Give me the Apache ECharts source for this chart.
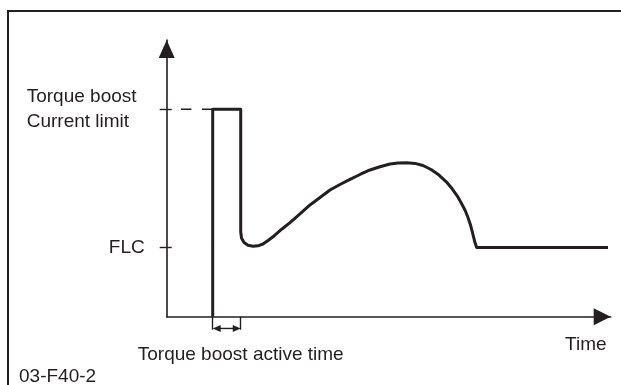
<!DOCTYPE html>
<html>
<head>
<meta charset="utf-8">
<script src="https://cdn.jsdelivr.net/npm/echarts@6/dist/echarts.min.js"></script>
<style>
html,body{margin:0;padding:0;background:#fff;}
#chart{width:621px;height:385px;}
</style>
</head>
<body>
<div id="chart"></div>
<script>
// ---- data (x: time units 0..100, y: current, FLC = 1) ----
const timeValues = [10.36, 10.36, 16.67, 16.67, 16.85, 17.41, 18.31, 19.44, 20.56, 21.69, 22.82, 24.17,
  25.97, 27.77, 30.02, 32.27, 34.53, 36.78, 39.03, 41.28, 43.54, 45.79, 48.04, 50.29, 52.09, 54.05,
  55.93, 57.73, 59.53, 61.33, 62.91, 64.26, 65.38, 66.28, 67.18, 67.86, 68.42, 68.87, 69.21, 69.50, 69.82, 99.39];
const currentValues = [0, 3, 3, 1.224, 1.138, 1.073, 1.032, 1.019, 1.025, 1.051, 1.102, 1.167,
  1.268, 1.359, 1.485, 1.615, 1.723, 1.832, 1.911, 1.986, 2.056, 2.121, 2.167, 2.207, 2.222, 2.226,
  2.216, 2.186, 2.128, 2.048, 1.954, 1.853, 1.752, 1.651, 1.542, 1.434, 1.326, 1.217, 1.130, 1.058, 1.0, 1.0];
const yTickValues = [1, 3];
const yTickLabels = ['FLC', 'Torque boost\nCurrent limit'];
const boostLevel = 3;
const boostStart = 10.36;
const boostEnd = 16.67;
const dashStart = 3.22;
const bracketLevel = -0.17;
const arrowInset = 0.9;
const xAxisName = 'Time';
const xAxisNameAt = 94.4;
const boostTimeLabel = 'Torque boost active time';
const figureId = '03-F40-2';

const ink = '#231f20';
const font = '"Liberation Sans", Arial, sans-serif';
const fs = 19;

const curveData = timeValues.map((t, i) => [t, currentValues[i]]);

const chart = echarts.init(document.getElementById('chart'), null, {renderer: 'canvas'});
chart.setOption({
  animation: false,
  backgroundColor: '#fff',
  title: {
    text: figureId, left: 19, top: 367, padding: 0,
    textStyle: {fontFamily: font, fontSize: fs, fontWeight: 'normal', color: ink}
  },
  graphic: [{
    type: 'rect', silent: true, z: 0,
    shape: {x: 8, y: 11, width: 700, height: 500},
    style: {fill: 'none', stroke: ink, lineWidth: 2}
  }],
  grid: {left: 166.7, right: 10.3, top: 40, bottom: 68.3, containLabel: false},
  xAxis: {
    type: 'value', min: 0, max: 100,
    splitLine: {show: false},
    axisLine: {show: true, lineStyle: {color: ink, width: 1.6},
      symbol: ['none', 'triangle'], symbolSize: [17, 17], symbolOffset: [0, -8.5]},
    axisTick: {show: true, customValues: [boostStart, boostEnd], length: 13, lineStyle: {color: ink, width: 1.4}},
    axisLabel: {show: true, customValues: [boostEnd, xAxisNameAt], margin: 19,
      formatter: (v) => v === boostEnd ? '{b|' + boostTimeLabel + '}' : '{t|' + xAxisName + '}',
      rich: {
        b: {fontFamily: font, fontSize: fs, color: ink, lineHeight: 39},
        t: {fontFamily: font, fontSize: fs, color: ink, lineHeight: 19}
      },
      fontFamily: font, fontSize: fs, color: ink}
  },
  yAxis: [{
    type: 'value', min: 0, max: 4, position: 'left',
    splitLine: {show: false},
    axisLine: {show: true, lineStyle: {color: ink, width: 1.6},
      symbol: ['none', 'triangle'], symbolSize: [16, 18], symbolOffset: [0, -9]},
    axisTick: {show: true, customValues: yTickValues, length: 7, lineStyle: {color: ink, width: 1.4}},
    axisLabel: {show: true, customValues: [yTickValues[0]], margin: 22,
      formatter: () => yTickLabels[0],
      fontFamily: font, fontSize: fs, color: ink}
  }, {
    type: 'value', min: 0, max: 4, position: 'left', offset: 0,
    splitLine: {show: false},
    axisLine: {show: false},
    axisTick: {show: true, inside: true, customValues: yTickValues, length: 5, lineStyle: {color: ink, width: 1.4}},
    axisLabel: {show: true, customValues: [yTickValues[1]], margin: 140, align: 'left',
      formatter: () => yTickLabels[1], lineHeight: 25, padding: [0, 0, 7, 0],
      fontFamily: font, fontSize: fs, color: ink}
  }],
  series: [{
    type: 'line', data: curveData, showSymbol: false, symbol: 'none',
    lineStyle: {color: ink, width: 3, join: 'round', cap: 'butt'}, z: 5
  }, {
    type: 'line', data: [[dashStart, boostLevel], [boostStart, boostLevel]], symbol: 'none',
    lineStyle: {color: ink, width: 1.4, type: [10.5, 10.5]}, z: 3
  }, {
    type: 'line', clip: false,
    data: [
      {value: [boostStart + arrowInset, bracketLevel], symbolRotate: 90},
      {value: [boostEnd - arrowInset, bracketLevel], symbolRotate: -90}
    ],
    symbol: 'triangle', symbolSize: [7, 8], showSymbol: true,
    itemStyle: {color: ink}, lineStyle: {color: ink, width: 1.4}, z: 4
  }]
});
</script>
</body>
</html>
